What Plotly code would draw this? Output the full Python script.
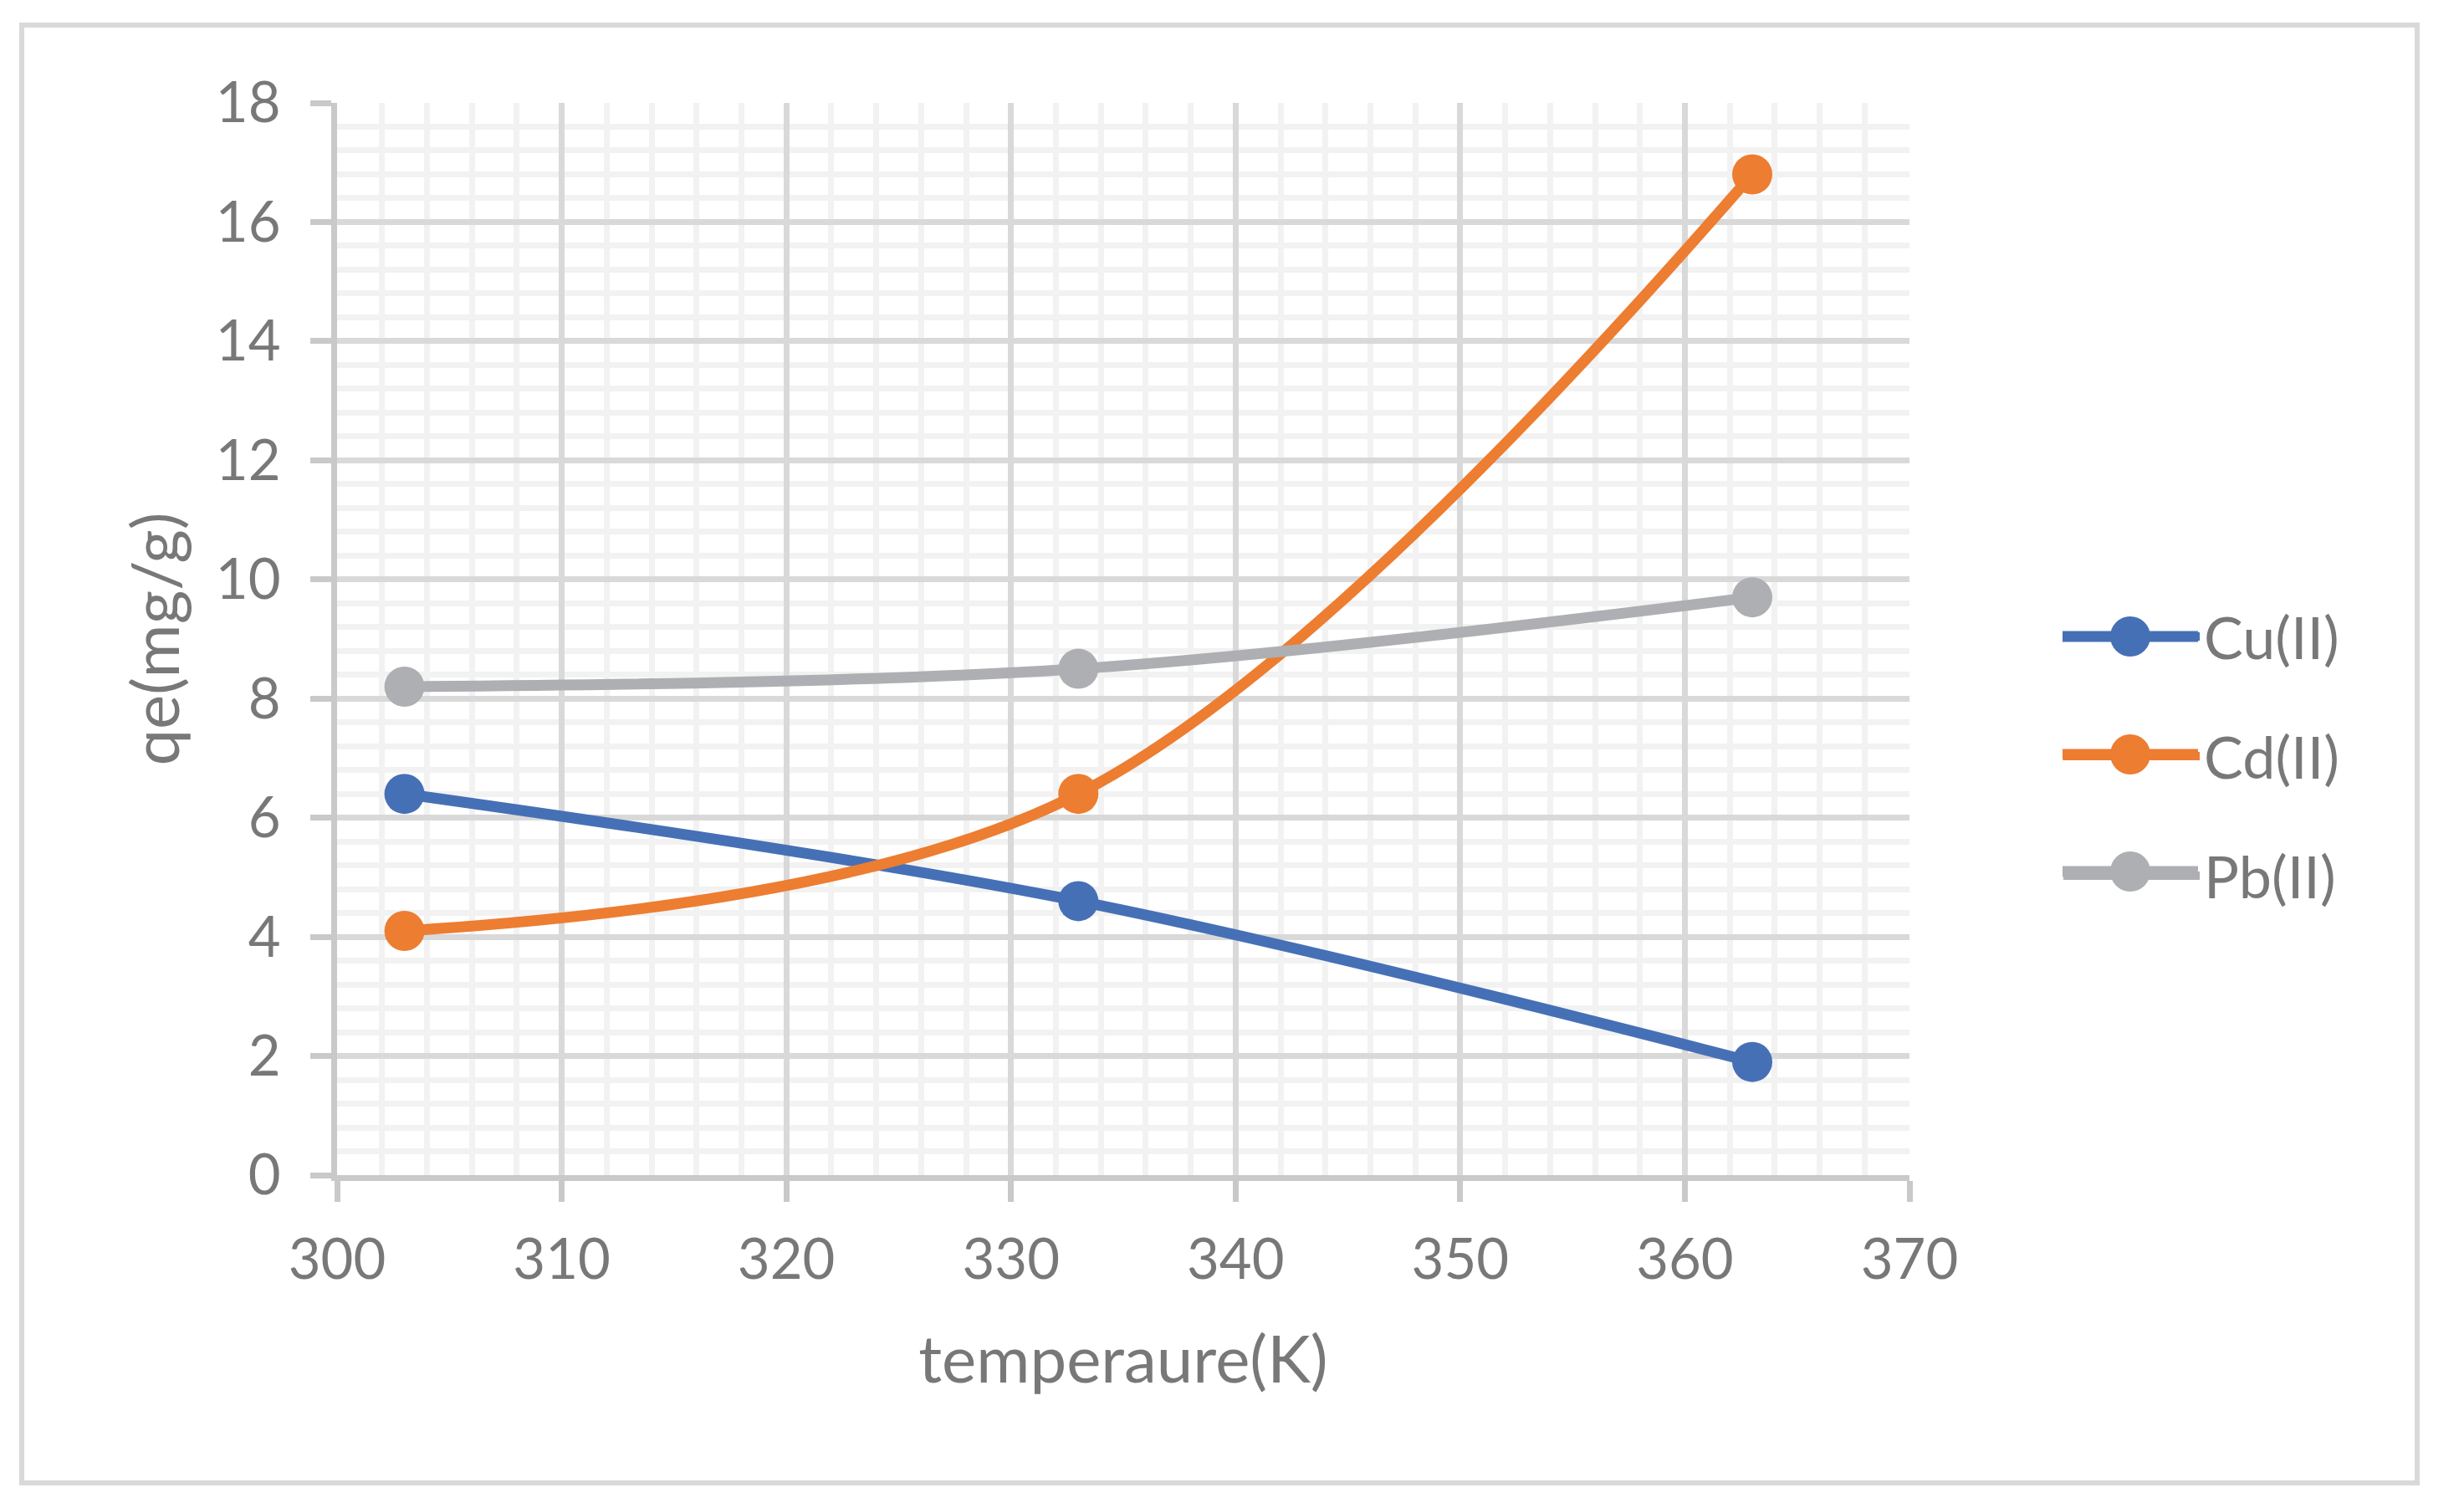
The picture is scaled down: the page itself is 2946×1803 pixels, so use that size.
import plotly.graph_objects as go

# ---- data ----
temperature = [303, 333, 363]
cu_values = [6.4, 4.6, 1.9]
cd_values = [4.1, 6.4, 16.8]
pb_values = [8.2, 8.5, 9.7]
series_names = ["Cu(II)", "Cd(II)", "Pb(II)"]
series_colors = ["#4670B6", "#ED7D31", "#AEAFB2"]

x_title = "temperaure(K)"
y_title = "qe(mg/g)"

W, H = 2946, 1803
L, R, T, B = 403, 2283, 123, 1405   # plot area in pixels

FONT = "Lato"
TXT = "#787878"

fig = go.Figure()
for name, vals, col in zip(series_names, [cu_values, cd_values, pb_values], series_colors):
    fig.add_trace(go.Scatter(
        x=temperature, y=vals, name=name, legendgroup=name,
        mode="lines+markers",
        line=dict(color=col, width=13, shape="spline", smoothing=1),
        marker=dict(color=col, size=48),
    ))

def px_x(p):
    return (p - L) / (R - L)

def px_y(p):
    return (B - p) / (B - T)

# chart border
fig.add_shape(type="rect", xref="paper", yref="paper",
              x0=px_x(26), x1=px_x(2890), y0=px_y(30), y1=px_y(1773),
              line=dict(color="#D9D9D9", width=6), layer="below")

# enlarged legend glyphs (plotly caps legend marker size / line width)
legend_rows_px = [761, 902, 1042]
legend_line_x0, legend_line_x1 = 2466, 2628
legend_dot_x = 2547
dot_r = 24
for row, col in zip(legend_rows_px, series_colors):
    fig.add_shape(type="line", xref="paper", yref="paper",
                  x0=px_x(legend_line_x0), x1=px_x(legend_line_x1),
                  y0=px_y(row), y1=px_y(row),
                  line=dict(color=col, width=13), layer="above")
    fig.add_shape(type="circle", xref="paper", yref="paper",
                  x0=px_x(legend_dot_x - dot_r), x1=px_x(legend_dot_x + dot_r),
                  y0=px_y(row + dot_r), y1=px_y(row - dot_r),
                  fillcolor=col, line=dict(color=col, width=0), layer="above")

axis_common = dict(
    showgrid=True, gridcolor="#D9D9D9", gridwidth=7,
    showline=True, linecolor="#C9C9C9", linewidth=7,
    ticks="outside", ticklen=25, tickwidth=7, tickcolor="#C9C9C9",
    tickfont=dict(family=FONT, size=67, color=TXT),
    zeroline=False,
)

fig.update_xaxes(range=[300, 370], dtick=10, tick0=300,
                 minor=dict(dtick=2, showgrid=True, gridcolor="#F2F2F2", gridwidth=7, ticks=""),
                 title=dict(text=x_title, font=dict(family=FONT, size=78, color=TXT), standoff=58),
                 ticklabelstandoff=12,
                 **axis_common)
fig.update_yaxes(range=[0, 18], dtick=2, tick0=0,
                 minor=dict(dtick=0.4, showgrid=True, gridcolor="#F2F2F2", gridwidth=7, ticks=""),
                 title=dict(text=y_title, font=dict(family=FONT, size=78, color=TXT), standoff=20),
                 ticklabelstandoff=22,
                 **axis_common)

fig.update_layout(
    width=W, height=H,
    margin=dict(l=L, r=W - R, t=T, b=H - B, autoexpand=False),
    paper_bgcolor="white", plot_bgcolor="white",
    font=dict(family=FONT, color=TXT),
    showlegend=True,
    legend=dict(x=px_x(2462), y=px_y(709), xanchor="left", yanchor="top",
                font=dict(family=FONT, size=70, color=TXT),
                itemwidth=163, tracegroupgap=49, bgcolor="rgba(0,0,0,0)"),
)

fig.write_html("out.html")
